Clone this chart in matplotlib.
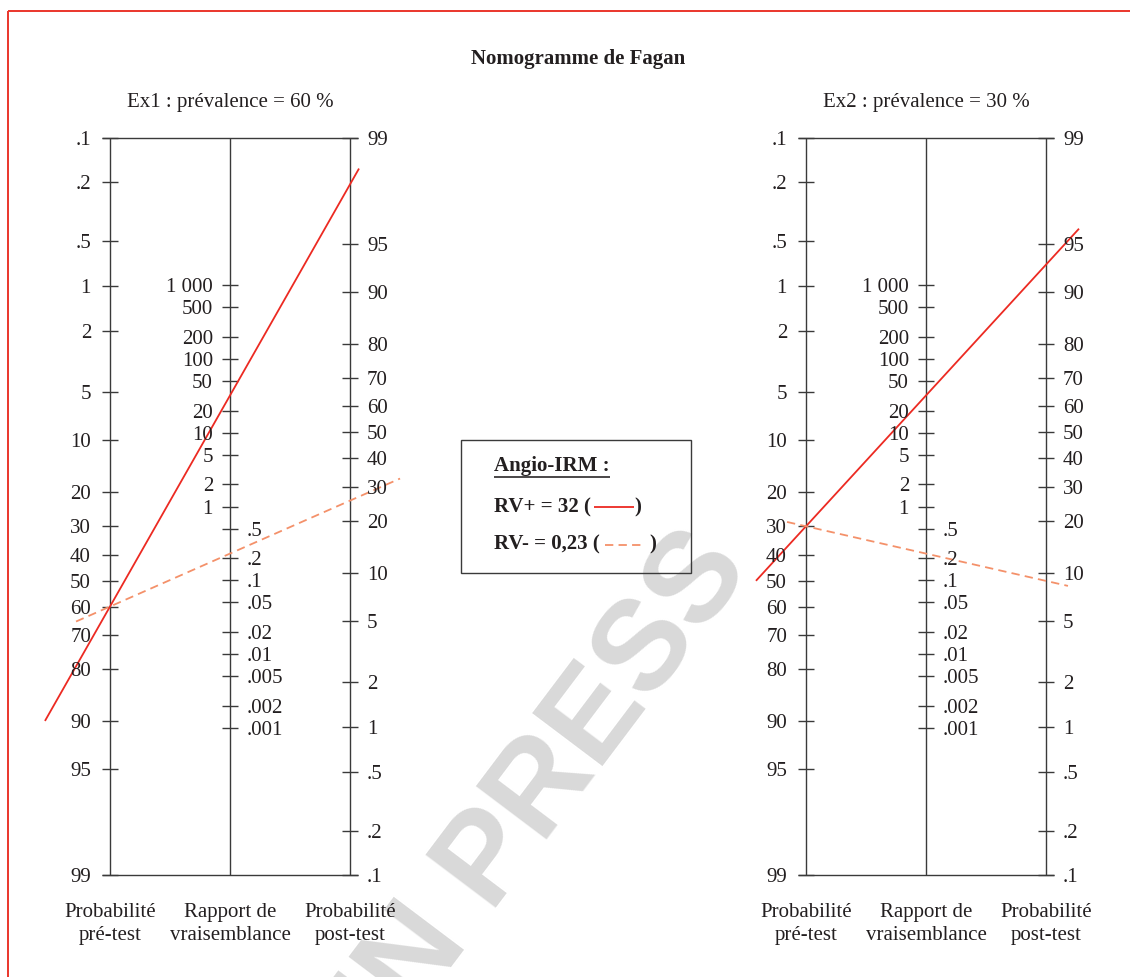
import numpy as np
import matplotlib
matplotlib.use("Agg")
import matplotlib.pyplot as plt
from matplotlib.patches import Rectangle

# ---------------- data ----------------
title = "Nomogramme de Fagan"
example_names = ["Ex1", "Ex2"]
prevalences = [60, 30]                 # pre-test probability (%)
lr_names = ["RV+", "RV-"]
lr_values = [32, 0.23]                 # likelihood ratios
legend_title = "Angio-IRM :"

pre_ticks = [0.1, 0.2, 0.5, 1, 2, 5, 10, 20, 30, 40, 50, 60, 70, 80, 90, 95, 99]
pre_tick_labels = [".1", ".2", ".5", "1", "2", "5", "10", "20", "30", "40",
                   "50", "60", "70", "80", "90", "95", "99"]
lr_ticks = [1000, 500, 200, 100, 50, 20, 10, 5, 2, 1,
            0.5, 0.2, 0.1, 0.05, 0.02, 0.01, 0.005, 0.002, 0.001]
lr_tick_labels = ["1 000", "500", "200", "100", "50", "20", "10", "5", "2", "1",
                  ".5", ".2", ".1", ".05", ".02", ".01", ".005", ".002", ".001"]
post_ticks = [99, 95, 90, 80, 70, 60, 50, 40, 30, 20, 10, 5, 2, 1, 0.5, 0.2, 0.1]
post_tick_labels = ["99", "95", "90", "80", "70", "60", "50", "40", "30", "20",
                    "10", "5", "2", "1", ".5", ".2", ".1"]
axis_titles = ["Probabilité\npré-test", "Rapport de\nvraisemblance", "Probabilité\npost-test"]
watermark = "IN PRESS"

# ---------------- styles / layout ----------------
plt.rcParams['font.family'] = ['Liberation Serif', 'DejaVu Serif']
TXT = '#231f20'
AXC = '#3a3a3a'
RED = '#ec2a22'
SALMON = '#f4916a'
FS = 15
W, H = 1130, 977
PX = 0.72  # points per pixel at 100 dpi

panel_left_px = [110, 806]
panel_w_px = 240
top_px, bot_px = 138, 875
# horizontal extent (in axis units, 0=left axis, 2=right axis) of the drawn lines
line_extents = [[(-0.542, 2.075), (-0.283, 2.417)],
                [(-0.417, 2.275), (-0.158, 2.183)]]
line_styles = [dict(color=RED, lw=1.3, ls='-'),
               dict(color=SALMON, lw=1.3, ls=(0, (4.6, 2.9)))]


def logit(p):
    p = np.asarray(p, dtype=float) / 100.0
    return np.log(p / (1 - p))


U_TOP = float(logit(0.1))
U_BOT = float(logit(99))
C = U_TOP + U_BOT


def u_pre(p):
    return logit(p)


def u_post(p):
    return C - logit(p)


def u_lr(lr):
    return (C - np.log(np.asarray(lr, dtype=float))) / 2


fig = plt.figure(figsize=(W / 100, H / 100), dpi=100)

# overlay axes in pixel units (frame, title, legend)
ov = fig.add_axes([0, 0, 1, 1])
ov.set_xlim(0, W)
ov.set_ylim(H, 0)
ov.axis('off')
ov.patch.set_visible(False)

ov.add_patch(Rectangle((8, 11), 1300, 1200, fill=False, edgecolor='#ea3a30', lw=2 * PX))
ov.text(578, 64, title, ha='center', va='baseline', fontsize=FS, fontweight='bold', color=TXT)

tick_len_pt = 16 * PX
ext = 8 / panel_w_px * 2  # 8 px in axis units

for k, left in enumerate(panel_left_px):
    ax = fig.add_axes([left / W, 1 - bot_px / H, panel_w_px / W, (bot_px - top_px) / H])
    ax.set_xlim(0, 2)
    ax.set_ylim(U_BOT, U_TOP)
    ax.axis('off')
    ax.patch.set_visible(False)

    # vertical axes
    for x in (0, 1, 2):
        ax.plot([x, x], [U_TOP, U_BOT], color=AXC, lw=1.0, solid_capstyle='butt', clip_on=False)
    # top and bottom lines
    for u in (U_TOP, U_BOT):
        ax.plot([-ext, 2 + ext], [u, u], color=AXC, lw=1.0, solid_capstyle='butt', clip_on=False)

    # ticks
    ax.plot(np.zeros(len(pre_ticks)), u_pre(pre_ticks), ls='none', marker='_',
            ms=tick_len_pt, mew=1.0, color=AXC, clip_on=False)
    ax.plot(np.ones(len(lr_ticks)), u_lr(lr_ticks), ls='none', marker='_',
            ms=tick_len_pt, mew=1.0, color=AXC, clip_on=False)
    ax.plot(np.full(len(post_ticks), 2.0), u_post(post_ticks), ls='none', marker='_',
            ms=tick_len_pt, mew=1.0, color=AXC, clip_on=False)

    # tick labels
    for v, lab in zip(pre_ticks, pre_tick_labels):
        ax.annotate(lab, (0, u_pre(v)), xytext=(-19 * PX, 0), textcoords='offset points',
                    ha='right', va='center_baseline', fontsize=FS, color=TXT)
    for v, lab in zip(lr_ticks, lr_tick_labels):
        if v >= 1:
            ax.annotate(lab, (1, u_lr(v)), xytext=(-17 * PX, 0), textcoords='offset points',
                        ha='right', va='center_baseline', fontsize=FS, color=TXT)
        else:
            ax.annotate(lab, (1, u_lr(v)), xytext=(17 * PX, 0), textcoords='offset points',
                        ha='left', va='center_baseline', fontsize=FS, color=TXT)
    for v, lab in zip(post_ticks, post_tick_labels):
        ax.annotate(lab, (2, u_post(v)), xytext=(17 * PX, 0), textcoords='offset points',
                    ha='left', va='center_baseline', fontsize=FS, color=TXT)

    # subtitle
    ax.annotate(f"{example_names[k]} : prévalence = {prevalences[k]} %", (1, U_TOP),
                xytext=(0, (top_px - 106.5) * PX), textcoords='offset points',
                ha='center', va='baseline', fontsize=FS, color=TXT)

    # bottom titles
    for x, t in zip((0, 1, 2), axis_titles):
        l1, l2 = t.split("\n")
        ax.annotate(l1, (x, U_BOT), xytext=(0, -(917 - bot_px) * PX), textcoords='offset points',
                    ha='center', va='baseline', fontsize=FS, color=TXT)
        ax.annotate(l2, (x, U_BOT), xytext=(0, -(940 - bot_px) * PX), textcoords='offset points',
                    ha='center', va='baseline', fontsize=FS, color=TXT)

    # Fagan lines
    prev = prevalences[k]
    for j, lr in enumerate(lr_values):
        up = float(u_pre(prev))
        post_logit = float(logit(prev)) + np.log(lr)
        uq = C - post_logit
        slope = (uq - up) / 2
        x0, x1 = line_extents[k][j]
        ax.plot([x0, x1], [up + slope * x0, up + slope * x1], clip_on=False,
                solid_capstyle='butt', dash_capstyle='butt', **line_styles[j])

# ---------------- legend box ----------------
ov.add_patch(Rectangle((460.5, 439.5), 230, 133.5, fill=False, edgecolor=AXC, lw=1.0))
fig.canvas.draw()
r = fig.canvas.get_renderer()
inv = ov.transData.inverted()

t0 = ov.text(494, 471, legend_title, ha='left', va='baseline', fontsize=FS,
             fontweight='bold', color=TXT)
bb = t0.get_window_extent(r)
xa = inv.transform([[bb.x0, 0]])[0][0]
xb = inv.transform([[bb.x1, 0]])[0][0]
ov.plot([xa, xb], [476.5, 476.5], color=TXT, lw=1.6 * PX, solid_capstyle='butt')

rows_y = [512, 549]
sample_y = [507, 545]
gaps = [(3, 40, 0), (5, 36, 9)]
for j, (nm, v) in enumerate(zip(lr_names, lr_values)):
    vs = f"{v:g}".replace('.', ',')
    t = ov.text(494, rows_y[j], f"{nm} = {vs} (", ha='left', va='baseline', fontsize=FS,
                fontweight='bold', color=TXT)
    bb = t.get_window_extent(r)
    xe = inv.transform([[bb.x1, 0]])[0][0]
    g0, ln, g1 = gaps[j]
    ov.plot([xe + g0, xe + g0 + ln], [sample_y[j]] * 2, solid_capstyle='butt',
            dash_capstyle='butt', **line_styles[j])
    ov.text(xe + g0 + ln + g1, rows_y[j], ")", ha='left', va='baseline', fontsize=FS,
            fontweight='bold', color=TXT)

# ---------------- watermark ----------------
fig.text(573 / W, 1 - 806 / H, watermark, rotation=53, rotation_mode='anchor',
         ha='center', va='baseline', fontsize=92, fontweight='bold',
         family='Liberation Sans', color='#d9d9d9', zorder=-5)

fig.savefig("out.png", dpi=100)
